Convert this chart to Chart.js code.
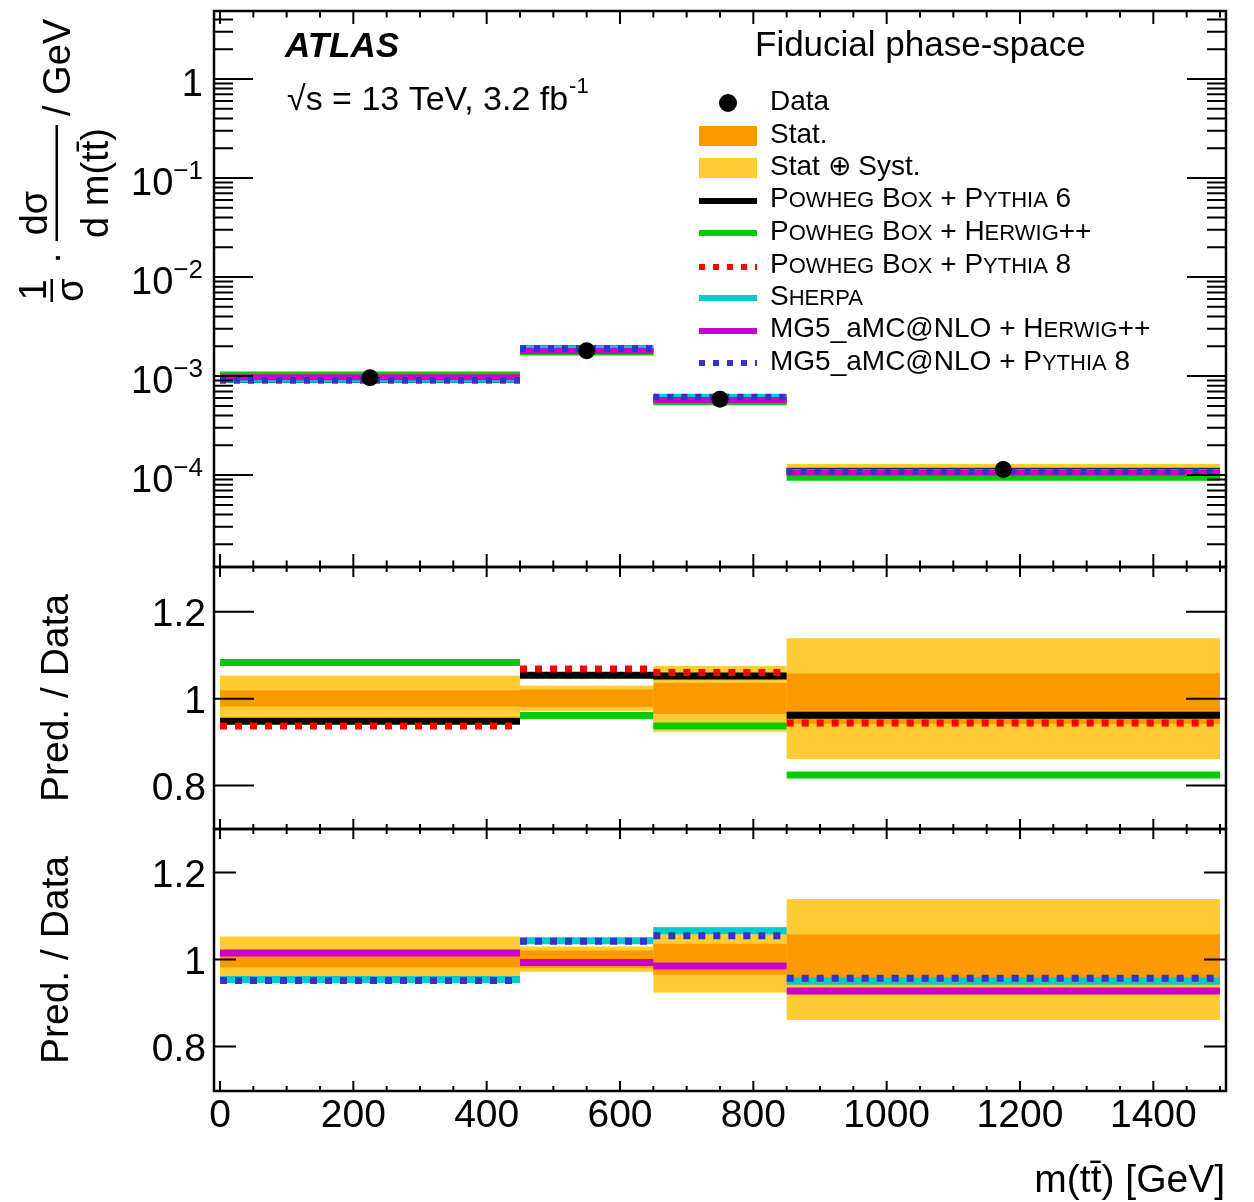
<!DOCTYPE html>
<html>
<head>
<meta charset="utf-8">
<title>m(tt) fiducial</title>
<script src="https://cdn.jsdelivr.net/npm/chart.js"></script>
<style>
  body { margin: 0; background: #fff; }
  #wrap { position: relative; width: 1254px; height: 1202px; }
  #wrap canvas { position: absolute; left: 0; top: 0; }
</style>
</head>
<body>
<div id="wrap">
  <canvas id="top" width="1254" height="1202"></canvas>
  <canvas id="ratio1" width="1254" height="1202"></canvas>
  <canvas id="ratio2" width="1254" height="1202"></canvas>
</div>
<script>
// --- values ---
const binEdges = [0, 450, 650, 850, 1500];
const binCentres = [225, 550, 750, 1175];
const dataXsec = [9.6e-4, 1.80e-3, 5.82e-4, 1.14e-4];

// relative uncertainty band (ratio to data)
const statLo = [0.982, 0.981, 0.965, 0.942];
const statHi = [1.019, 1.021, 1.036, 1.058];
const totLo = [0.948, 0.972, 0.924, 0.861];
const totHi = [1.053, 1.030, 1.075, 1.139];

// predictions, normalised cross section [1/GeV]
const pwgPy6Xsec = [9.10e-4, 1.90e-3, 6.12e-4, 1.10e-4];
const pwgHwXsec = [1.04e-3, 1.73e-3, 5.45e-4, 9.39e-5];
const pwgPy8Xsec = [8.99e-4, 1.92e-3, 6.17e-4, 1.08e-4];
const sherpaXsec = [9.16e-4, 1.88e-3, 6.20e-4, 1.08e-4];
const mg5HwXsec = [9.74e-4, 1.79e-3, 5.73e-4, 1.06e-4];
const mg5Py8Xsec = [9.14e-4, 1.88e-3, 6.14e-4, 1.09e-4];

// predictions / data
const pwgPy6Ratio = [0.948, 1.054, 1.052, 0.962];
const pwgHwRatio = [1.083, 0.961, 0.937, 0.824];
const pwgPy8Ratio = [0.937, 1.068, 1.060, 0.944];
const sherpaRatio = [0.954, 1.043, 1.066, 0.951];
const mg5HwRatio = [1.015, 0.993, 0.985, 0.928];
const mg5Py8Ratio = [0.952, 1.042, 1.055, 0.957];

// axis ticks and labels
const xTickValues = [0, 200, 400, 600, 800, 1000, 1200, 1400];
const xTickLabels = ['0', '200', '400', '600', '800', '1000', '1200', '1400'];
const logTickValues = [1, 1e-1, 1e-2, 1e-3, 1e-4];
const logTickExps = ['', '\u22121', '\u22122', '\u22123', '\u22124'];
const ratioTickValues = [0.8, 1, 1.2];
const ratioTickLabels = ['0.8', '1', '1.2'];

// legend text, {..} = small caps
const legendLabels = ['Data', 'Stat.', 'Stat \u2295 Syst.',
  'P{OWHEG} B{OX} + P{YTHIA} 6', 'P{OWHEG} B{OX} + H{ERWIG}++', 'P{OWHEG} B{OX} + P{YTHIA} 8',
  'S{HERPA}', 'MG5_aMC@NLO + H{ERWIG}++', 'MG5_aMC@NLO + P{YTHIA} 8'];

// --- styles ---
const FONT = '"Liberation Sans", Arial, Helvetica, sans-serif';
const ORANGE = '#fb9a00';
const YELLOW = '#ffcc33';
const modelStyles = [
  { color: '#000000', dotted: false },
  { color: '#00cc00', dotted: false },
  { color: '#ff0000', dotted: true },
  { color: '#00cccc', dotted: false },
  { color: '#cc00cc', dotted: false },
  { color: '#3333cc', dotted: true }
];
const modelXsec = [pwgPy6Xsec, pwgHwXsec, pwgPy8Xsec, sherpaXsec, mg5HwXsec, mg5Py8Xsec];
const modelRatio = [pwgPy6Ratio, pwgHwRatio, pwgPy8Ratio, sherpaRatio, mg5HwRatio, mg5Py8Ratio];

Chart.defaults.font.family = FONT;

// horizontal segment per bin, broken between bins
function stepPoints(vals) {
  const pts = [];
  vals.forEach((v, i) => {
    pts.push({ x: binEdges[i], y: v }, { x: binEdges[i + 1], y: v });
    if (i < vals.length - 1) pts.push({ x: binEdges[i + 1], y: null });
  });
  return pts;
}

function lineSet(vals, idx, width, dash) {
  const st = modelStyles[idx];
  return {
    data: stepPoints(vals),
    borderColor: st.color,
    backgroundColor: st.color,
    borderWidth: width,
    borderDash: st.dotted ? dash : [],
    borderCapStyle: 'butt',
    pointRadius: 0,
    fill: false,
    spanGaps: false,
    order: 10 - idx
  };
}

function text(ctx, s, x, y, size, align, style) {
  ctx.font = (style || '') + ' ' + size + 'px ' + FONT;
  ctx.textAlign = align || 'left';
  ctx.textBaseline = 'alphabetic';
  ctx.fillStyle = '#000';
  ctx.fillText(s, x, y);
}

// rotated 90deg ccw, baseline at x, anchored along y
function rotText(ctx, s, x, y, size, align) {
  ctx.save();
  ctx.translate(x, y);
  ctx.rotate(-Math.PI / 2);
  text(ctx, s, 0, 0, size, align);
  ctx.restore();
}

function capsText(ctx, label, x, y, size) {
  const parts = label.split(/(\{[^}]*\})/).filter(p => p.length);
  let cx = x;
  parts.forEach(p => {
    const small = p[0] === '{';
    const s = small ? p.slice(1, -1) : p;
    const fs = small ? Math.round(size * 0.77) : size;
    text(ctx, s, cx, y, fs, 'left');
    cx += ctx.measureText(s).width;
  });
}

function drawBands(chart, onXsec) {
  const { ctx, scales } = chart;
  const xs = scales.x, ys = scales.y;
  ctx.save();
  [[totLo, totHi, YELLOW], [statLo, statHi, ORANGE]].forEach(([lo, hi, col]) => {
    ctx.fillStyle = col;
    for (let i = 0; i < dataXsec.length; i++) {
      const f = onXsec ? dataXsec[i] : 1;
      const x0 = xs.getPixelForValue(binEdges[i]);
      const x1 = xs.getPixelForValue(binEdges[i + 1]);
      const y0 = ys.getPixelForValue(hi[i] * f);
      const y1 = ys.getPixelForValue(lo[i] * f);
      ctx.fillRect(x0, y0, x1 - x0, y1 - y0);
    }
  });
  ctx.restore();
}

function drawFrame(chart, o) {
  const { ctx, chartArea: a, scales } = chart;
  const xs = scales.x, ys = scales.y;
  ctx.save();
  ctx.strokeStyle = '#000';
  ctx.lineWidth = 2;
  ctx.beginPath();
  for (let v = 0; v <= 1500; v += 50) {
    const len = xTickValues.includes(v) ? o.xMajor : o.xMinor;
    const px = xs.getPixelForValue(v);
    ctx.moveTo(px, a.top); ctx.lineTo(px, a.top + len);
    ctx.moveTo(px, a.bottom); ctx.lineTo(px, a.bottom - len);
  }
  o.yTicks.forEach(([v, len]) => {
    const py = ys.getPixelForValue(v);
    ctx.moveTo(a.left, py); ctx.lineTo(a.left + len, py);
    ctx.moveTo(a.right, py); ctx.lineTo(a.right - len, py);
  });
  ctx.stroke();
  ctx.lineWidth = 2.5;
  ctx.strokeRect(a.left, a.top, a.right - a.left, a.bottom - a.top);
  ctx.restore();
}

function baseOptions(area, yScale) {
  return {
    responsive: false,
    animation: false,
    devicePixelRatio: 1,
    layout: { padding: { left: 214, right: 28, top: area[0], bottom: 1202 - area[1] } },
    scales: {
      x: { type: 'linear', min: -9, max: 1509, display: false },
      y: Object.assign({ display: false }, yScale)
    },
    plugins: { legend: { display: false }, tooltip: { enabled: false } }
  };
}

// ---------- top panel ----------
const logTicks = [];
for (let d = -5; d <= 0; d++) {
  for (let k = 1; k <= 9; k++) {
    const v = k * Math.pow(10, d);
    if (v > 1.18e-5 && v < 4.86) logTicks.push([v, k === 1 ? 39 : 19]);
  }
}

const topPlugin = {
  id: 'topPanel',
  beforeDatasetsDraw(chart) { drawBands(chart, true); },
  afterDraw(chart) {
    const { ctx, scales } = chart;
    drawFrame(chart, { xMajor: 13, xMinor: 6.5, yTicks: logTicks });
    logTickValues.forEach((v, i) => {
      const py = scales.y.getPixelForValue(v);
      if (!logTickExps[i]) {
        text(ctx, '1', 203, py + 17, 38, 'right');
      } else {
        ctx.font = '26px ' + FONT;
        const w = ctx.measureText(logTickExps[i]).width;
        text(ctx, logTickExps[i], 203, py + 1, 26, 'right');
        text(ctx, '10', 203 - w, py + 17, 38, 'right');
      }
    });
    // y title: 1/sigma . dsigma / d m(tt) / GeV
    ctx.save();
    ctx.fillStyle = '#000';
    rotText(ctx, '1', 46, 290, 38, 'center');
    ctx.fillRect(50.5, 279, 2.5, 23);
    rotText(ctx, '\u03c3', 83, 290, 38, 'center');
    rotText(ctx, '\u00b7', 69, 258, 38, 'center');
    rotText(ctx, 'd\u03c3', 47, 213, 38, 'center');
    ctx.fillRect(55.5, 125, 2.5, 116);
    rotText(ctx, 'd m(tt\u0304)', 108, 183, 38, 'center');
    rotText(ctx, '/ GeV', 70, 116, 38, 'left');
    ctx.restore();
    // annotations
    text(ctx, 'ATLAS', 285, 57, 35, 'left', 'italic bold');
    text(ctx, '\u221as = 13 TeV, 3.2 fb', 287, 110, 34, 'left');
    ctx.font = '34px ' + FONT;
    const w = ctx.measureText('\u221as = 13 TeV, 3.2 fb').width;
    text(ctx, '-1', 287 + w + 1, 93, 22, 'left');
    text(ctx, 'Fiducial phase-space', 755, 56, 35, 'left');
    // legend
    const symY = [103, 136, 168, 201, 233, 267, 298, 331, 363];
    const txtY = [110, 143, 175, 207, 240, 273, 305, 337, 370];
    ctx.save();
    ctx.fillStyle = '#000';
    ctx.beginPath(); ctx.arc(728, symY[0], 9, 0, Math.PI * 2); ctx.fill();
    ctx.fillStyle = ORANGE; ctx.fillRect(699, symY[1] - 10, 58, 20);
    ctx.fillStyle = YELLOW; ctx.fillRect(699, symY[2] - 10, 58, 20);
    modelStyles.forEach((st, i) => {
      ctx.strokeStyle = st.color;
      ctx.lineWidth = 6;
      ctx.setLineDash(st.dotted ? [6, 8] : []);
      ctx.beginPath(); ctx.moveTo(699, symY[i + 3]); ctx.lineTo(757, symY[i + 3]); ctx.stroke();
    });
    ctx.restore();
    legendLabels.forEach((lab, i) => capsText(ctx, lab, 770, txtY[i], 28));
  }
};

const topSets = [{
  data: binCentres.map((x, i) => ({ x: x, y: dataXsec[i] })),
  showLine: false,
  pointRadius: 8.5,
  pointBackgroundColor: '#000',
  pointBorderWidth: 0,
  order: 0
}];
modelXsec.forEach((vals, i) => topSets.push(lineSet(vals, i, 6, [6, 8])));

new Chart(document.getElementById('top'), {
  type: 'line',
  data: { datasets: topSets },
  options: baseOptions([11, 567], { type: 'logarithmic', min: 1.18e-5, max: 4.86 }),
  plugins: [topPlugin]
});

// ---------- ratio panels ----------
function ratioPlugin(name, tickLen, showX, titleY) {
  return {
    id: name,
    beforeDatasetsDraw(chart) { drawBands(chart, false); },
    afterDraw(chart) {
      const { ctx, scales } = chart;
      drawFrame(chart, { xMajor: 10, xMinor: 5, yTicks: ratioTickValues.map(v => [v, tickLen]) });
      ratioTickValues.forEach((v, i) => {
        text(ctx, ratioTickLabels[i], 206, scales.y.getPixelForValue(v) + 14, 39, 'right');
      });
      rotText(ctx, 'Pred. / Data', 68, titleY, 39, 'center');
      if (showX) {
        xTickValues.forEach((v, i) => {
          text(ctx, xTickLabels[i], scales.x.getPixelForValue(v), 1127, 39, 'center');
        });
        text(ctx, 'm(tt\u0304) [GeV]', 1225, 1192, 39, 'right');
      }
    }
  };
}

new Chart(document.getElementById('ratio1'), {
  type: 'line',
  data: { datasets: [0, 1, 2].map(i => lineSet(modelRatio[i], i, 7, [7, 8])) },
  options: baseOptions([567, 829], { type: 'linear', min: 0.7, max: 1.303 }),
  plugins: [ratioPlugin('ratio1', 40, false, 698)]
});

new Chart(document.getElementById('ratio2'), {
  type: 'line',
  data: { datasets: [3, 4, 5].map(i => lineSet(modelRatio[i], i, 7, [7, 8])) },
  options: baseOptions([829, 1091], { type: 'linear', min: 0.698, max: 1.30 }),
  plugins: [ratioPlugin('ratio2', 22, true, 960)]
});
</script>
</body>
</html>
